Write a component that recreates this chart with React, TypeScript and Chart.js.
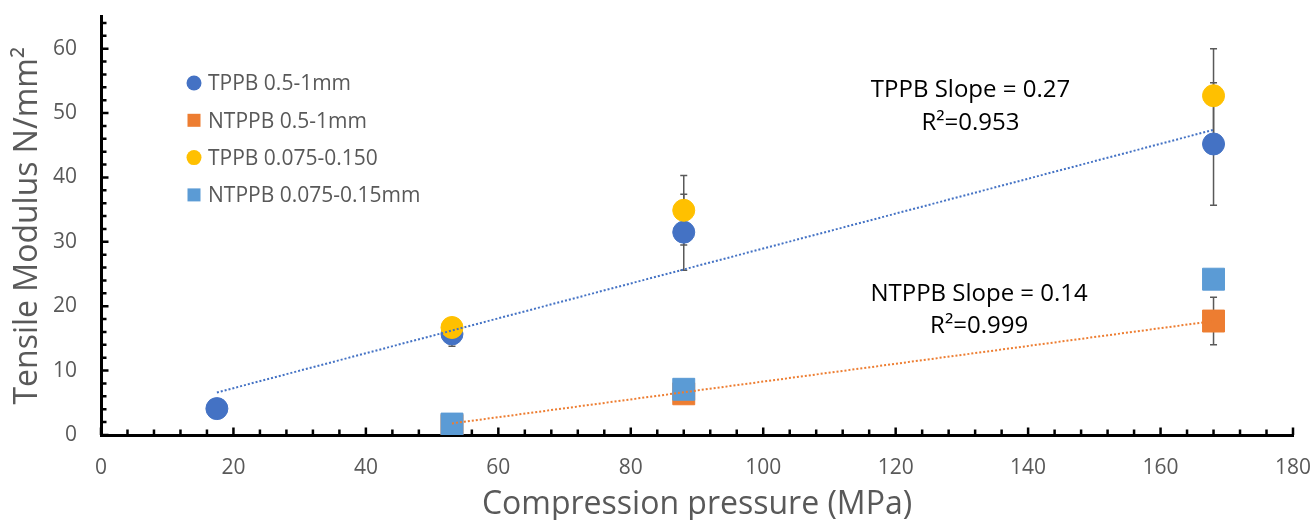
import { useEffect, useRef } from "react";
import { Chart, registerables } from "chart.js";

Chart.register(...registerables);

// Compression pressure (MPa) for each series
const pressureTppbCoarse = [17.5, 53, 88, 168];
const pressureNtppbCoarse = [53, 88, 168];
const pressureTppbFine = [53, 88, 168];
const pressureNtppbFine = [53, 88, 168];

// Tensile modulus (N/mm²) and standard deviations
const tppbCoarse = [4.1, 15.7, 31.5, 45.2];
const tppbCoarseErr = [0, 1.9, 5.9, 9.5];
const ntppbCoarse = [1.5, 6.4, 17.7];
const ntppbCoarseErr = [0.5, 0.8, 3.7];
const tppbFine = [16.7, 34.9, 52.7];
const tppbFineErr = [0.8, 5.4, 7.3];
const ntppbFine = [1.7, 7.1, 24.2];
const ntppbFineErr = [0.3, 0.5, 0.6];

// Linear trend lines (end points)
const tppbTrendX = [17.5, 168];
const tppbTrendY = [6.6, 47.4];
const ntppbTrendX = [53, 168];
const ntppbTrendY = [1.8, 17.7];

// Axis ticks
const xTickValues = [0, 20, 40, 60, 80, 100, 120, 140, 160, 180];
const yTickValues = [0, 10, 20, 30, 40, 50, 60];
const xMinorStep = 4;
const yMinorStep = 2;

// Fit annotations: center x, line-1 baseline y, line-2 baseline y (data units)
const fitNotes = [
  { lines: ["TPPB Slope = 0.27", "R²=0.953"], x: 131.3, y1: 52.5, y2: 47.4 },
  { lines: ["NTPPB Slope = 0.14", "R²=0.999"], x: 132.6, y1: 20.8, y2: 15.9 },
];

const FONT = "'Open Sans', 'Noto Sans', sans-serif";
const GREY = "#595959";
const BLUE = "#4472C4";
const ORANGE = "#ED7D31";
const YELLOW = "#FFC000";
const LIGHT_BLUE = "#5B9BD5";

const pts = (xs: number[], ys: number[]) => xs.map((x, i) => ({ x, y: ys[i] }));

const decorations = {
  id: "decorations",
  beforeDatasetsDraw(chart: any) {
    const { ctx, scales } = chart;
    const x = scales.x;
    const y = scales.y;
    ctx.save();

    // inward tick marks on both axes
    ctx.strokeStyle = "#000";
    ctx.lineWidth = 2.5;
    ctx.beginPath();
    for (let v = 0; v <= x.max + 1e-9; v += xMinorStep) {
      const px = x.getPixelForValue(v);
      const len = v % 20 === 0 ? 7.5 : 5.5;
      ctx.moveTo(px, y.bottom);
      ctx.lineTo(px, y.bottom - len);
    }
    for (let v = 0; v <= y.max + 1e-9; v += yMinorStep) {
      const py = y.getPixelForValue(v);
      const len = v % 10 === 0 ? 7.5 : 5.5;
      ctx.moveTo(x.left, py);
      ctx.lineTo(x.left + len, py);
    }
    ctx.stroke();

    // error bars
    ctx.strokeStyle = GREY;
    ctx.lineWidth = 1.5;
    chart.data.datasets.forEach((ds: any) => {
      if (!ds.errors) return;
      ds.data.forEach((p: any, i: number) => {
        const e = ds.errors[i];
        if (!e) return;
        const px = x.getPixelForValue(p.x);
        const top = y.getPixelForValue(p.y + e);
        const bot = y.getPixelForValue(p.y - e);
        ctx.beginPath();
        ctx.moveTo(px, top);
        ctx.lineTo(px, bot);
        ctx.moveTo(px - 3.5, top);
        ctx.lineTo(px + 3.5, top);
        ctx.moveTo(px - 3.5, bot);
        ctx.lineTo(px + 3.5, bot);
        ctx.stroke();
      });
    });
    ctx.restore();
  },
  afterDraw(chart: any) {
    const { ctx, scales } = chart;
    const x = scales.x;
    const y = scales.y;
    ctx.save();

    // axis titles
    ctx.fillStyle = GREY;
    ctx.font = `32px ${FONT}`;
    ctx.textAlign = "center";
    ctx.textBaseline = "alphabetic";
    ctx.fillText("Compression pressure (MPa)", (x.left + x.right) / 2, 514);
    ctx.save();
    ctx.translate(37, (y.top + y.bottom) / 2);
    ctx.rotate(-Math.PI / 2);
    ctx.fillText("Tensile Modulus N/mm²", 0, 0);
    ctx.restore();

    // legend
    ctx.font = `21px ${FONT}`;
    ctx.textAlign = "left";
    const entries = chart.data.datasets.filter((d: any) => !d.isTrend);
    entries.forEach((d: any, i: number) => {
      const cy = 83 + i * 37.3;
      const cx = 194;
      ctx.fillStyle = d.backgroundColor;
      if (d.pointStyle === "circle") {
        ctx.beginPath();
        ctx.arc(cx, cy, 7.5, 0, Math.PI * 2);
        ctx.fill();
      } else {
        ctx.fillRect(cx - 6.5, cy - 6.5, 13, 13);
      }
      ctx.fillStyle = GREY;
      ctx.fillText(d.label, 208, cy + 7.3);
    });

    // fit annotations
    ctx.fillStyle = "#000";
    ctx.font = `24px ${FONT}`;
    ctx.textAlign = "center";
    fitNotes.forEach((n) => {
      const cx = x.getPixelForValue(n.x);
      ctx.fillText(n.lines[0], cx, y.getPixelForValue(n.y1));
      ctx.fillText(n.lines[1], cx, y.getPixelForValue(n.y2));
    });
    ctx.restore();
  },
};

const clearPadding = (s: any) => {
  s.paddingTop = 0;
  s.paddingBottom = 0;
  s.paddingLeft = 0;
  s.paddingRight = 0;
};

export default function App() {
  const canvasRef = useRef<HTMLCanvasElement | null>(null);

  useEffect(() => {
    const canvas = canvasRef.current;
    if (!canvas) return;

    const marker = (color: string, style: string, radius: number) => ({
      pointStyle: style,
      pointRadius: radius,
      backgroundColor: color,
      borderColor: color,
      borderWidth: 1,
      showLine: false,
    });

    const chart = new Chart(canvas, {
      type: "scatter",
      data: {
        datasets: [
          {
            label: "TPPB 0.5-1mm",
            data: pts(pressureTppbCoarse, tppbCoarse),
            errors: tppbCoarseErr,
            order: 4,
            ...marker(BLUE, "circle", 11),
          },
          {
            label: "NTPPB 0.5-1mm",
            data: pts(pressureNtppbCoarse, ntppbCoarse),
            errors: ntppbCoarseErr,
            order: 3,
            ...marker(ORANGE, "rect", 15.5),
          },
          {
            label: "TPPB 0.075-0.150",
            data: pts(pressureTppbFine, tppbFine),
            errors: tppbFineErr,
            order: 2,
            ...marker(YELLOW, "circle", 11),
          },
          {
            label: "NTPPB 0.075-0.15mm",
            data: pts(pressureNtppbFine, ntppbFine),
            errors: ntppbFineErr,
            order: 1,
            ...marker(LIGHT_BLUE, "rect", 15.5),
          },
          {
            label: "TPPB trend",
            isTrend: true,
            data: pts(tppbTrendX, tppbTrendY),
            showLine: true,
            borderColor: BLUE,
            borderWidth: 2,
            borderDash: [2, 2],
            pointRadius: 0,
            order: 0,
          },
          {
            label: "NTPPB trend",
            isTrend: true,
            data: pts(ntppbTrendX, ntppbTrendY),
            showLine: true,
            borderColor: ORANGE,
            borderWidth: 2,
            borderDash: [2, 2],
            pointRadius: 0,
            order: 0,
          },
        ] as any,
      },
      options: {
        animation: false,
        responsive: false,
        devicePixelRatio: 1,
        events: [],
        layout: { padding: { top: 13, right: 21, left: 0, bottom: 0 } },
        plugins: {
          legend: { display: false },
          tooltip: { enabled: false },
        },
        scales: {
          x: {
            type: "linear",
            min: 0,
            max: 180,
            grid: { display: false, drawTicks: false },
            border: { display: true, color: "#000", width: 3 },
            ticks: { color: GREY, font: { family: FONT, size: 21 }, padding: 20 },
            afterBuildTicks: (s: any) => {
              s.ticks = xTickValues.map((v) => ({ value: v }));
            },
            afterFit: (s: any) => {
              s.height = 85;
              clearPadding(s);
            },
          },
          y: {
            type: "linear",
            min: 0,
            max: 65,
            grid: { display: false, drawTicks: false },
            border: { display: true, color: "#000", width: 3 },
            ticks: { color: GREY, font: { family: FONT, size: 21 }, padding: 24 },
            afterBuildTicks: (s: any) => {
              s.ticks = yTickValues.map((v) => ({ value: v }));
            },
            afterFit: (s: any) => {
              s.width = 101;
              clearPadding(s);
            },
          },
        },
      } as any,
      plugins: [decorations],
    });

    return () => chart.destroy();
  }, []);

  return (
    <div style={{ position: "fixed", left: 0, top: 0, width: 1314, height: 520, background: "#fff" }}>
      <canvas ref={canvasRef} width={1314} height={520} style={{ width: 1314, height: 520 }} />
    </div>
  );
}
